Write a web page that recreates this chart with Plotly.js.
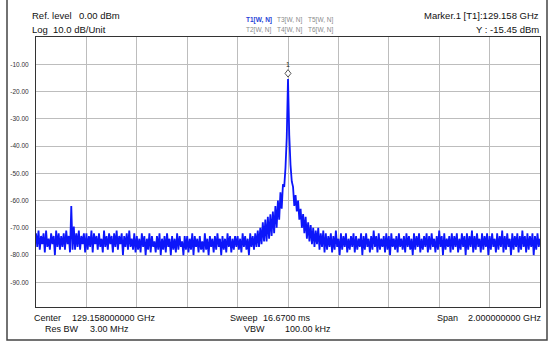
<!DOCTYPE html>
<html><head><meta charset="utf-8">
<script src="https://cdn.plot.ly/plotly-3.0.1.min.js"></script>
<style>html,body{margin:0;padding:0;background:#fff;}#chart{width:550px;height:343px;}</style>
</head><body><div id="chart"></div>
<script>
// ---- data ----
const centerGHz = 129.158;
const spanGHz = 2.0;
// sweep levels (dBm), 401 points from left edge to right edge
const levels_dBm = [
-72,-77,-71,-78,-73,-76,-72,-79,-71,-77,-74,-78,-72,-76,-73,-80,-71,-77,-72,-78,
-73,-77,-72,-78,-71,-76,-73,-79,-62,-78,-69.5,-78,-72,-77,-71,-78,-73,-76,-72,-79,
-72,-78,-73,-77,-71,-79,-72,-76,-73,-78,-72,-77,-74,-79,-71,-77,-73,-78,-72,-76,
-73,-79,-72,-77,-71,-78,-73,-76,-72,-80,-73,-77,-72,-78,-71,-77,-74,-78,-72,-79,
-73,-78,-74,-79,-72,-77,-73,-80,-74,-78,-72,-79,-73,-77,-75,-79,-73,-78,-72,-80,
-74,-78,-73,-79,-72,-77,-74,-80,-73,-78,-74,-79,-72,-78,-73,-77,-75,-80,-73,-78,
-73,-79,-74,-78,-72,-80,-73,-77,-74,-79,-73,-78,-75,-79,-72,-78,-74,-80,-73,-77,
-74,-79,-73,-78,-72,-77,-74,-80,-73,-78,-74,-79,-72,-77,-73,-79,-74,-78,-73,-77,
-73,-78,-74,-79,-72,-77,-73,-78,-74,-80,-72,-77,-73,-78,-72,-77,-71,-77,-70,-76,
-68,-75,-67,-75,-66,-74,-65,-73,-64,-72,-62,-70,-60,-67,-57,-63,-54,-55,-48,-37,
-15.45,-36,-47,-53,-55,-62,-58,-64,-60,-67,-63,-70,-65,-72,-66,-74,-68,-75,-69,-76,
-70,-77,-71,-76,-70,-78,-72,-77,-71,-79,-72,-78,-73,-77,-72,-79,-73,-78,-71,-77,
-74,-80,-72,-78,-73,-77,-72,-79,-74,-78,-73,-77,-72,-79,-73,-78,-74,-77,-72,-80,
-73,-78,-72,-77,-74,-79,-73,-78,-71,-77,-73,-79,-72,-78,-74,-77,-73,-79,-72,-78,
-73,-80,-72,-77,-74,-78,-73,-79,-72,-77,-74,-78,-73,-79,-72,-77,-73,-78,-74,-80,
-72,-78,-73,-77,-72,-79,-74,-78,-73,-77,-72,-79,-73,-78,-72,-77,-74,-79,-73,-78,
-71,-77,-73,-80,-72,-78,-74,-77,-73,-79,-72,-78,-73,-77,-72,-79,-74,-78,-72,-77,
-73,-80,-72,-78,-73,-77,-71,-79,-73,-78,-72,-77,-74,-79,-72,-78,-73,-77,-72,-80,
-73,-78,-72,-77,-74,-79,-72,-78,-73,-77,-71,-79,-73,-78,-72,-77,-74,-80,-72,-78,
-73,-77,-72,-79,-73,-78,-71,-77,-73,-79,-72,-78,-73,-77,-72,-80,-73,-78,-72,-77,
-74
];
const yTickValues = [-90,-80,-70,-60,-50,-40,-30,-20,-10];
const yTickLabels = ['-90.00','-80.00','-70.00','-60.00','-50.00','-40.00','-30.00','-20.00','-10.00'];
const markerName = '1';
const headerLeft = [['Ref. level','0.00 dBm'],['Log','10.0 dB/Unit']];
const traceLabels = [['T1[W, N]','T3[W, N]','T5[W, N]'],['T2[W, N]','T4[W, N]','T6[W, N]']];
const markerReadout = ['Marker.1 [T1]:129.158 GHz','Y : -15.45 dBm'];
const footer = [['Center','129.158000000 GHz'],['Res BW','3.00 MHz'],['Sweep','16.6700 ms'],['VBW','100.00 kHz'],['Span','2.000000000 GHz']];

// ---- build ----
const N = levels_dBm.length;
const startGHz = centerGHz - spanGHz/2, stopGHz = centerGHz + spanGHz/2;
const freqs = levels_dBm.map((_, i) => startGHz + i*spanGHz/(N-1));
let pk = 0; levels_dBm.forEach((v,i)=>{ if (v > levels_dBm[pk]) pk = i; });

// pixel -> paper helpers (plot area 36..540 x 37..307)
const L=36, R=540, T=37, B=307;
const px = x => (x-L)/(R-L);
const py = y => (B-y)/(B-T);
const FONT = 'Liberation Sans, Arial, sans-serif';
const ann = [];
function txt(text, x, y, anchor, size, color, bold){
  ann.push({text: bold ? '<b>'+text+'</b>' : text, xref:'paper', yref:'paper', x:px(x), y:py(y),
    xanchor:anchor, yanchor:'middle', showarrow:false,
    font:{family:FONT, size:size, color:color||'#111'}});
}
txt(headerLeft[0][0], 30, 15.5, 'left', 9.5);
txt(headerLeft[0][1], 76.5, 15.5, 'left', 9.5);
txt(headerLeft[1][0], 30, 29.3, 'left', 9.5);
txt(headerLeft[1][1], 51, 29.3, 'left', 9.5);
const tx = [244, 275, 306];
traceLabels.forEach((row, r) => row.forEach((t, c) => {
  const active = (r===0 && c===0);
  txt(t, tx[c], r===0 ? 20 : 30, 'left', 6.5, active ? '#1f3fd6' : '#8a8a8a', active);
}));
txt(markerReadout[0], 541, 15.5, 'right', 9.5);
txt(markerReadout[1], 541, 29.3, 'right', 9.5);
// footer
txt(footer[0][0], 31.5, 318, 'left', 9); txt(footer[0][1], 70, 318, 'left', 9);
txt(footer[1][0], 43, 329, 'left', 9);   txt(footer[1][1], 88, 329, 'left', 9);
txt(footer[2][0], 228, 318, 'left', 9);  txt(footer[2][1], 261, 318, 'left', 9);
txt(footer[3][0], 242, 329, 'left', 9);  txt(footer[3][1], 282.5, 329, 'left', 9);
txt(footer[4][0], 435, 318, 'left', 9);  txt(footer[4][1], 466, 318, 'left', 9);
// marker number
ann.push({text: markerName, x: freqs[pk], y: levels_dBm[pk], xref:'x', yref:'y', showarrow:false,
  yshift: 15, font:{family:FONT, size:7, color:'#222'}});

const shapes = [
  {type:'rect', xref:'paper', yref:'paper', x0:px(7), x1:px(547), y0:py(340), y1:py(-3),
   line:{color:'#444', width:1.5}, fillcolor:'rgba(0,0,0,0)', layer:'below'},
  {type:'path', xref:'x', yref:'y', xsizemode:'pixel', ysizemode:'pixel',
   xanchor: freqs[pk], yanchor: levels_dBm[pk],
   path:'M 0 2 L 3 5.7 L 0 9.5 L -3 5.7 Z', line:{color:'#555', width:1}, fillcolor:'#fff'}
];

const data = [{
  x: freqs, y: levels_dBm, type:'scatter', mode:'lines',
  line:{color:'rgb(12,22,250)', width:1.8, simplify:false}, hoverinfo:'skip'
}];

const layout = {
  width:550, height:343,
  margin:{l:L, r:550-R, t:T, b:343-B},
  paper_bgcolor:'#fff', plot_bgcolor:'#fff',
  showlegend:false,
  font:{family:FONT},
  xaxis:{range:[startGHz, stopGHz], tick0:startGHz, dtick:spanGHz/10, showticklabels:false,
    ticks:'', showgrid:true, gridcolor:'#bdbdbd', gridwidth:1, zeroline:false,
    showline:true, mirror:true, linecolor:'#333', linewidth:1},
  yaxis:{range:[-99.05, 0], tickvals:yTickValues, ticktext:yTickLabels, ticks:'',
    tickfont:{family:FONT, size:6.5, color:'#333'}, ticklabelstandoff:5,
    showgrid:true, gridcolor:'#bdbdbd', gridwidth:1, zeroline:false,
    showline:true, mirror:true, linecolor:'#333', linewidth:1},
  annotations: ann, shapes: shapes
};
Plotly.newPlot('chart', data, layout, {staticPlot:true, displayModeBar:false});
</script></body></html>
